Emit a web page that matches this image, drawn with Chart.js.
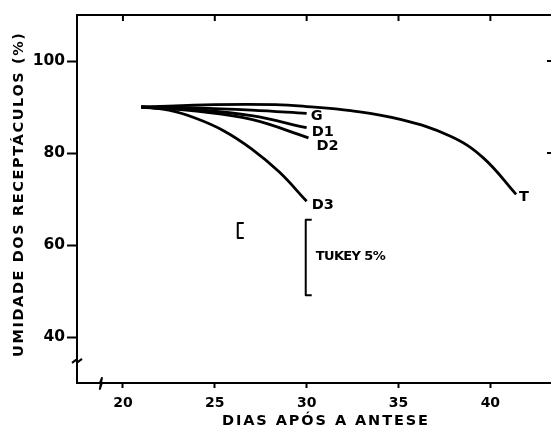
<!DOCTYPE html>
<html>
<head>
<meta charset="utf-8">
<script src="https://cdn.jsdelivr.net/npm/chart.js@4.4.1/dist/chart.umd.min.js"></script>
<style>
html, body { margin: 0; padding: 0; background: #fff; }
#wrap { width: 551px; height: 430px; }
</style>
</head>
<body>
<div id="wrap"><canvas id="umidade"></canvas></div>
<script>
// values (days after anthesis, receptacle moisture %)
var daysT = [21, 25, 28.3, 30, 32.4, 35.1, 37.8, 39.6, 41.4];
var valuesT = [90, 90.5, 90.5, 90.1, 89.2, 87.3, 83.7, 79.0, 71.0];

var daysG = [21, 24, 27, 30];
var valuesG = [90, 89.8, 89.3, 88.6];

var daysD1 = [21, 24, 27, 30];
var valuesD1 = [90, 89.4, 88.1, 85.5];

var daysD2 = [21, 24, 27, 30.1];
var valuesD2 = [90, 89.1, 87.3, 83.3];

var daysD3 = [21, 22.5, 24, 25.5, 27, 28.5, 30];
var valuesD3 = [90, 89.3, 87.5, 84.8, 80.9, 75.9, 69.5];

var seriesNames = ['T', 'G', 'D1', 'D2', 'D3'];

// Tukey 5% bars
var tukeyX = [26.25, 29.95];
var tukeyLow = [61.5, 49.1];
var tukeyHigh = [64.8, 65.5];
var tukeyText = 'TUKEY 5%';

var xTicks = [20, 25, 30, 35, 40];
var yTicks = [40, 60, 80, 100];
var xTitle = 'DIAS APÓS A ANTESE';
var yTitle = 'UMIDADE DOS RECEPTÁCULOS (%)';

var FONT = '"DejaVu Sans", sans-serif';

function pts(xs, ys) {
	return xs.map(function(x, i) { return { x: x, y: ys[i] }; });
}

function fitText(ctx, text, target) {
	ctx.letterSpacing = '0px';
	var w = ctx.measureText(text).width;
	var sp = (target - w) / (text.length - 1);
	ctx.letterSpacing = sp + 'px';
	return w + sp * (text.length - 1);
}

var extras = {
	id: 'extras',
	afterDraw: function(chart) {
		var ctx = chart.ctx;
		var a = chart.chartArea;
		var xs = chart.scales.x, ys = chart.scales.y;
		ctx.save();
		ctx.strokeStyle = '#000';
		ctx.fillStyle = '#000';
		ctx.lineWidth = 2;
		ctx.lineJoin = 'round';

		// top frame with inward ticks
		ctx.beginPath();
		ctx.moveTo(a.left, a.top);
		ctx.lineTo(a.right, a.top);
		xTicks.forEach(function(v) {
			var px = xs.getPixelForValue(v);
			ctx.moveTo(px, a.top);
			ctx.lineTo(px, a.top + 6);
		});
		[100, 80].forEach(function(v) {
			var py = ys.getPixelForValue(v);
			ctx.moveTo(a.right - 4, py);
			ctx.lineTo(a.right, py);
		});
		ctx.stroke();

		// axis breaks
		var by = ys.getPixelForValue(34.8);
		ctx.beginPath();
		ctx.moveTo(a.left - 5, by + 2);
		ctx.lineTo(a.left - 1, by - 1);
		ctx.lineTo(a.left + 1, by + 1);
		ctx.lineTo(a.left + 5, by - 2);
		ctx.stroke();
		var bx = xs.getPixelForValue(18.8);
		ctx.fillStyle = '#fff';
		ctx.fillRect(bx - 2, a.bottom - 2, 4, 4);
		ctx.beginPath();
		ctx.moveTo(bx - 4, a.bottom);
		ctx.lineTo(bx - 1, a.bottom);
		ctx.lineTo(bx + 1, a.bottom - 5);
		ctx.lineTo(bx - 1, a.bottom + 6);
		ctx.lineTo(bx + 1, a.bottom);
		ctx.lineTo(bx + 4, a.bottom);
		ctx.stroke();
		ctx.fillStyle = '#000';

		// tukey brackets
		tukeyX.forEach(function(v, i) {
			var px = xs.getPixelForValue(v);
			var t = ys.getPixelForValue(tukeyHigh[i]);
			var b = ys.getPixelForValue(tukeyLow[i]);
			ctx.beginPath();
			ctx.moveTo(px + 6, t);
			ctx.lineTo(px, t);
			ctx.lineTo(px, b);
			ctx.lineTo(px + 6, b);
			ctx.stroke();
		});
		ctx.font = 'bold 13px ' + FONT;
		ctx.textBaseline = 'middle';
		ctx.textAlign = 'left';
		var lastTx = xs.getPixelForValue(tukeyX[1]);
		var midTy = (ys.getPixelForValue(tukeyHigh[1]) + ys.getPixelForValue(tukeyLow[1])) / 2;
		fitText(ctx, tukeyText, 70);
		ctx.fillText(tukeyText, lastTx + 10, midTy - 1);

		// series labels at line ends
		var offs = { T: [3, 3], G: [4, 3], D1: [5, 5], D2: [8, 8], D3: [5, 4] };
		ctx.font = 'bold 14.5px ' + FONT;
		ctx.letterSpacing = '0px';
		chart.data.datasets.forEach(function(ds, i) {
			var meta = chart.getDatasetMeta(i);
			var p = meta.data[meta.data.length - 1];
			var o = offs[ds.label];
			ctx.fillText(ds.label, p.x + o[0], p.y + o[1]);
		});

		// axis titles
		ctx.font = 'bold 14.5px ' + FONT;
		ctx.textAlign = 'left';
		var w = fitText(ctx, xTitle, 206);
		ctx.fillText(xTitle, 325 - w / 2, 421);
		ctx.translate(19, 195);
		ctx.rotate(-Math.PI / 2);
		w = fitText(ctx, yTitle, 324);
		ctx.fillText(yTitle, -w / 2, 0);
		ctx.restore();
	}
};

var lineStyle = {
	borderColor: '#000',
	borderWidth: 2.8,
	pointRadius: 0,
	fill: false,
	tension: 0.4
};

var dataSets = [
	pts(daysT, valuesT),
	pts(daysG, valuesG),
	pts(daysD1, valuesD1),
	pts(daysD2, valuesD2),
	pts(daysD3, valuesD3)
];

var umidadeConfig = {
	type: 'line',
	data: {
		datasets: dataSets.map(function(d, i) {
			return Object.assign({ label: seriesNames[i], data: d }, lineStyle);
		})
	},
	options: {
		responsive: false,
		animation: false,
		devicePixelRatio: 1,
		layout: { padding: { top: 15, right: 0, left: 0, bottom: 0 } },
		plugins: { legend: { display: false }, tooltip: { enabled: false } },
		scales: {
			x: {
				type: 'linear',
				min: 17.5,
				max: 43.3,
				afterFit: function(s) { s.height = 47; },
				afterBuildTicks: function(s) { s.ticks = xTicks.map(function(v) { return { value: v }; }); },
				grid: { drawOnChartArea: false, drawTicks: true, tickLength: 5, tickWidth: 2, tickColor: '#000' },
				border: { display: true, color: '#000', width: 2 },
				ticks: { color: '#000', padding: 7, maxRotation: 0, font: { family: FONT, size: 14, weight: 'bold' } }
			},
			y: {
				min: 30,
				max: 110,
				afterFit: function(s) { s.width = 77; },
				afterBuildTicks: function(s) { s.ticks = yTicks.map(function(v) { return { value: v }; }); },
				grid: { drawOnChartArea: false, drawTicks: true, tickLength: 10, tickWidth: 2, tickColor: '#000' },
				border: { display: true, color: '#000', width: 2 },
				ticks: { color: '#000', padding: 2, font: { family: FONT, size: 15.5, weight: 'bold' } }
			}
		}
	},
	plugins: [extras]
};

window.onload = function() {
	var canvas = document.getElementById('umidade');
	canvas.width = 551;
	canvas.height = 430;
	window.umidade = new Chart(canvas.getContext('2d'), umidadeConfig);
};
</script>
</body>
</html>
